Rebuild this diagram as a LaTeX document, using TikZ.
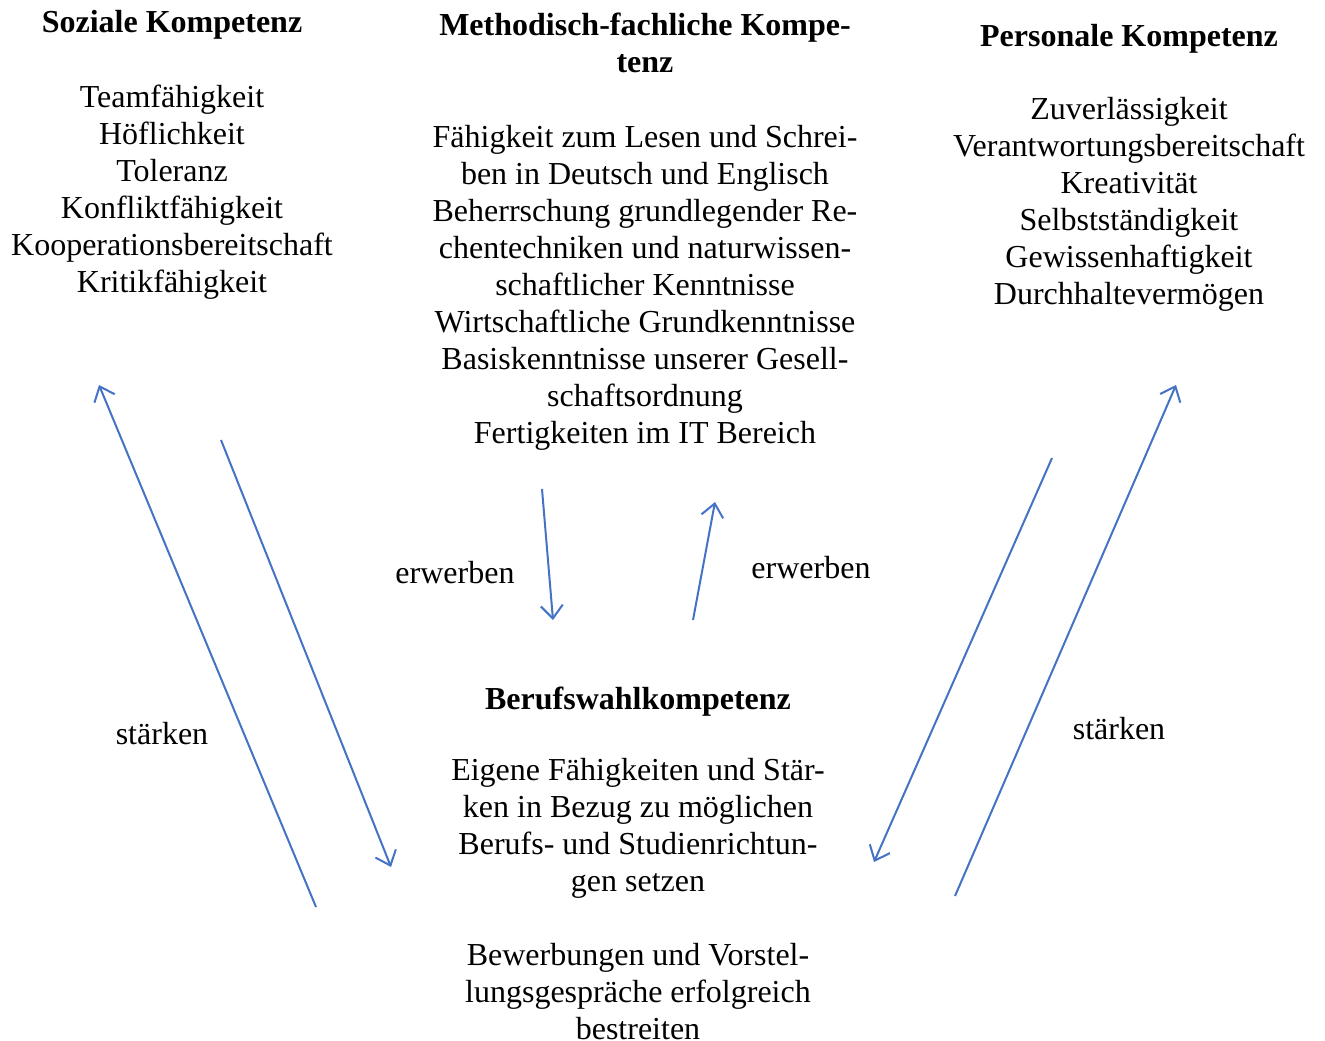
\documentclass[tikz,border=0pt]{standalone}
\usepackage{fontspec}
\setmainfont{Liberation Serif}
\usetikzlibrary{arrows.meta}
\definecolor{arrowblue}{RGB}{68,114,196}
\tikzset{
  txt/.style={align=center, inner sep=0pt, anchor=base, font=\fontsize{32}{37}\selectfont},
  ttl/.style={txt, font=\fontsize{32}{37}\selectfont\bfseries},
  arr/.style={draw=arrowblue, line width=2pt, -{Straight Barb[length=13pt,width=22pt,line width=2pt]}}
}
\begin{document}
\begin{tikzpicture}[x=1pt,y=-1pt]
\useasboundingbox (0,0) rectangle (1325,1041);
% left column
\node[ttl] (soz) at (172,33) {Soziale Kompetenz};
\node[txt] (sozl) at (172,292) {Teamfähigkeit\\Höflichkeit\\Toleranz\\Konfliktfähigkeit\\Kooperationsbereitschaft\\Kritikfähigkeit};
% middle column
\node[ttl] (meth) at (645,73) {Methodisch-fachliche Kompe-\\tenz};
\node[txt] (methl) at (645,443) {Fähigkeit zum Lesen und Schrei-\\ben in Deutsch und Englisch\\Beherrschung grundlegender Re-\\chentechniken und naturwissen-\\schaftlicher Kenntnisse\\Wirtschaftliche Grundkenntnisse\\Basiskenntnisse unserer Gesell-\\schaftsordnung\\Fertigkeiten im IT Bereich};
% right column
\node[ttl] (pers) at (1129,47) {Personale Kompetenz};
\node[txt] (persl) at (1129,304) {Zuverlässigkeit\\Verantwortungsbereitschaft\\Kreativität\\Selbstständigkeit\\Gewissenhaftigkeit\\Durchhaltevermögen};
% bottom
\node[ttl] (beruf) at (638,709) {Berufswahlkompetenz};
\node[txt] (berufl) at (638,1039) {Eigene Fähigkeiten und Stär-\\ken in Bezug zu möglichen\\Berufs- und Studienrichtun-\\gen setzen\\[37pt]Bewerbungen und Vorstel-\\lungsgespräche erfolgreich\\bestreiten};
% labels
\node[txt] (erw1) at (455,583) {erwerben};
\node[txt] (erw2) at (811,578) {erwerben};
\node[txt] (st1) at (162,744) {stärken};
\node[txt] (st2) at (1119,739) {stärken};
% arrow end points
\coordinate (a1s) at (316,907); \coordinate (a1e) at (99,385);
\coordinate (a2s) at (221,440); \coordinate (a2e) at (391,867);
\coordinate (a3s) at (542,489); \coordinate (a3e) at (553,620);
\coordinate (a4s) at (693,620); \coordinate (a4e) at (715,502);
\coordinate (a5s) at (1052,458); \coordinate (a5e) at (874,862);
\coordinate (a6s) at (955,896); \coordinate (a6e) at (1176,385);
\draw[arr] (a1s) -- (a1e);
\draw[arr] (a2s) -- (a2e);
\draw[arr] (a3s) -- (a3e);
\draw[arr] (a4s) -- (a4e);
\draw[arr] (a5s) -- (a5e);
\draw[arr] (a6s) -- (a6e);
\end{tikzpicture}
\end{document}
